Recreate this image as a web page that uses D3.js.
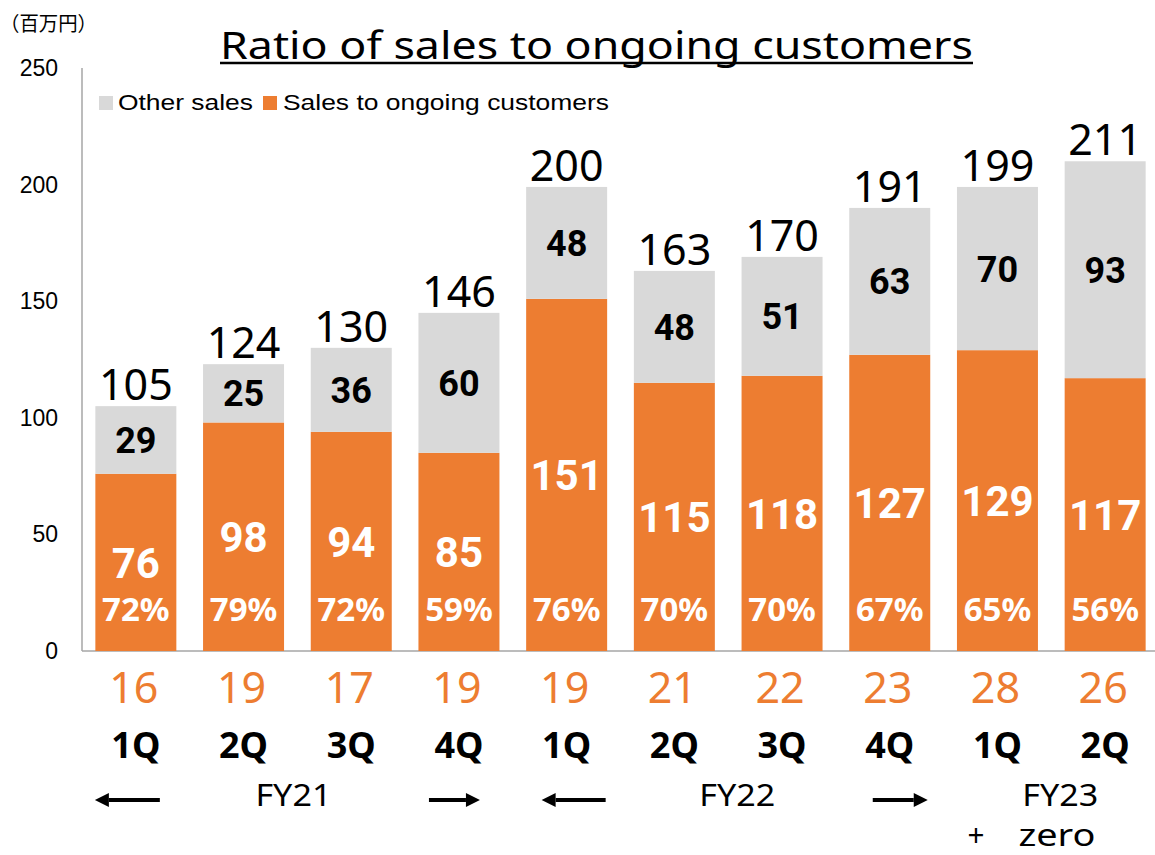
<!DOCTYPE html>
<html>
<head>
<meta charset="utf-8">
<script src="https://cdn.jsdelivr.net/npm/d3@7"></script>
<style>
  html, body { margin: 0; padding: 0; background: #fff; }
  svg { display: block; }
</style>
</head>
<body>
<svg id="chart" width="1155" height="855"></svg>
<script>
const quarters = ["1Q", "2Q", "3Q", "4Q", "1Q", "2Q", "3Q", "4Q", "1Q", "2Q"];
const ongoingSales = [76, 98, 94, 85, 151, 115, 118, 127, 129, 117];
const otherSales = [29, 25, 36, 60, 48, 48, 51, 63, 70, 93];
const totalLabels = [105, 124, 130, 146, 200, 163, 170, 191, 199, 211];
const ratioLabels = ["72%", "79%", "72%", "59%", "76%", "70%", "70%", "67%", "65%", "56%"];
const customerCounts = [16, 19, 17, 19, 19, 21, 22, 23, 28, 26];
const yTickValues = [0, 50, 100, 150, 200, 250];
const seriesNames = ["Other sales", "Sales to ongoing customers"];
const fiscalYears = ["FY21", "FY22", "FY23"];
const titleText = "Ratio of sales to ongoing customers";
const unitText = "（百万円）";
const notePlus = "+";
const noteWord = "zero";

const ORANGE = "#ED7D31", GRAY = "#D9D9D9", AXIS = "#A6A6A6";
const svg = d3.select("#chart");
const ids = quarters.map((q, i) => i);

const x = d3.scaleBand().domain(ids).range([82, 1159]).paddingInner(0.248).paddingOuter(0.124);
const y = d3.scaleLinear().domain([0, 250]).range([651, 68]);
const cx = i => x(i) + x.bandwidth() / 2;

// axes lines
svg.append("line").attr("x1", 82).attr("x2", 82).attr("y1", y(250)).attr("y2", y(0))
  .attr("stroke", AXIS).attr("stroke-width", 1.5);
svg.append("line").attr("x1", 82).attr("x2", 1155).attr("y1", y(0)).attr("y2", y(0))
  .attr("stroke", AXIS).attr("stroke-width", 1.5);

// y tick labels
svg.append("g").selectAll("text").data(yTickValues).join("text")
  .attr("x", 58).attr("y", d => y(d)).attr("dy", "0.35em")
  .attr("text-anchor", "end")
  .attr("font-family", "Liberation Sans, Arial, sans-serif").attr("font-size", 23)
  .attr("fill", "#000").text(d => d);

// unit label
svg.append("text").attr("x", 0).attr("y", 31)
  .attr("font-family", "Noto Sans CJK JP, sans-serif").attr("font-size", 20)
  .attr("textLength", 97).attr("lengthAdjust", "spacingAndGlyphs")
  .text(unitText);

// title
svg.append("text").attr("x", 220).attr("y", 59)
  .attr("font-family", "Noto Sans, sans-serif").attr("font-size", 39).attr("fill", "#000")
  .attr("textLength", 753).attr("lengthAdjust", "spacingAndGlyphs")
  .text(titleText);
svg.append("line").attr("x1", 220).attr("x2", 973).attr("y1", 63).attr("y2", 63)
  .attr("stroke", "#000").attr("stroke-width", 2.5);

// bars
const g = svg.append("g");
g.selectAll("rect.ong").data(ongoingSales).join("rect").attr("class", "ong")
  .attr("x", (d, i) => x(i)).attr("width", x.bandwidth())
  .attr("y", d => y(d)).attr("height", d => y(0) - y(d)).attr("fill", ORANGE);
g.selectAll("rect.oth").data(otherSales).join("rect").attr("class", "oth")
  .attr("x", (d, i) => x(i)).attr("width", x.bandwidth())
  .attr("y", (d, i) => y(ongoingSales[i] + d)).attr("height", (d, i) => y(ongoingSales[i]) - y(ongoingSales[i] + d))
  .attr("fill", GRAY);

// segment labels
g.selectAll("text.ongv").data(ongoingSales).join("text")
  .attr("x", (d, i) => cx(i)).attr("y", d => (y(d) + y(0)) / 2).attr("dy", "0.36em")
  .attr("text-anchor", "middle").attr("font-family", "Roboto, sans-serif").attr("font-weight", 700)
  .attr("font-size", 42).attr("fill", "#fff").text(d => d);
g.selectAll("text.othv").data(otherSales).join("text")
  .attr("x", (d, i) => cx(i)).attr("y", (d, i) => (y(ongoingSales[i]) + y(ongoingSales[i] + d)) / 2).attr("dy", "0.36em")
  .attr("text-anchor", "middle").attr("font-family", "Roboto, sans-serif").attr("font-weight", 700)
  .attr("font-size", 36).attr("fill", "#000").text(d => d);
g.selectAll("text.ratio").data(ratioLabels).join("text")
  .attr("x", (d, i) => cx(i)).attr("y", 621)
  .attr("text-anchor", "middle").attr("font-family", "Noto Sans, sans-serif").attr("font-weight", 700)
  .attr("font-size", 33).attr("fill", "#fff").text(d => d);
g.selectAll("text.total").data(totalLabels).join("text")
  .attr("x", (d, i) => cx(i)).attr("y", (d, i) => y(ongoingSales[i] + otherSales[i]) - 6)
  .attr("text-anchor", "middle").attr("font-family", "Noto Sans, sans-serif")
  .attr("font-size", 43).attr("fill", "#000").text(d => d);

// below axis
g.selectAll("text.cust").data(customerCounts).join("text")
  .attr("x", (d, i) => cx(i) - 2).attr("y", 703)
  .attr("text-anchor", "middle").attr("font-family", "Noto Sans, sans-serif")
  .attr("font-size", 43).attr("fill", ORANGE).text(d => d);
g.selectAll("text.q").data(quarters).join("text")
  .attr("x", (d, i) => cx(i)).attr("y", 758)
  .attr("text-anchor", "middle").attr("font-family", "Noto Sans, sans-serif").attr("font-weight", 700)
  .attr("font-size", 36).attr("fill", "#000").text(d => d);

// fiscal year labels
const fyPos = [(cx(1) + cx(2)) / 2 - 4, (cx(5) + cx(6)) / 2 + 9, (cx(8) + cx(9)) / 2 + 9];
svg.append("g").selectAll("text").data(fiscalYears).join("text")
  .attr("x", (d, i) => fyPos[i]).attr("y", 806)
  .attr("text-anchor", "middle").attr("font-family", "Noto Sans, sans-serif")
  .attr("font-size", 31).attr("fill", "#000")
  .attr("textLength", 76).attr("lengthAdjust", "spacingAndGlyphs").text(d => d);
svg.append("text").attr("x", cx(8) - 30).attr("y", 846)
  .attr("font-family", "Noto Sans, sans-serif").attr("font-size", 30).attr("fill", "#000")
  .attr("textLength", 17).attr("lengthAdjust", "spacingAndGlyphs")
  .text(notePlus);
svg.append("text").attr("x", cx(8) + 21).attr("y", 846)
  .attr("font-family", "Noto Sans, sans-serif").attr("font-size", 30).attr("fill", "#000")
  .attr("textLength", 77).attr("lengthAdjust", "spacingAndGlyphs")
  .text(noteWord);

// arrows
function arrow(x1, x2, yy) {
  const dir = Math.sign(x2 - x1);
  const head = 14;
  svg.append("line").attr("x1", x1).attr("x2", x2 - dir * head).attr("y1", yy).attr("y2", yy)
    .attr("stroke", "#000").attr("stroke-width", 4);
  svg.append("path").attr("d", `M${x2},${yy} L${x2 - dir * head},${yy - 7} L${x2 - dir * head},${yy + 7} Z`)
    .attr("fill", "#000");
}
arrow(cx(0) + 24, cx(0) - 41, 800);
arrow(cx(3) - 30, cx(3) + 21, 800);
arrow(cx(4) + 39, cx(4) - 25, 800);
arrow(cx(7) - 17, cx(7) + 38, 800);

// legend
const lg = svg.append("g");
lg.append("rect").attr("x", 99).attr("y", 96).attr("width", 14).attr("height", 14).attr("fill", GRAY);
lg.append("text").attr("x", 118).attr("y", 110).attr("font-family", "Liberation Sans, Arial, sans-serif")
  .attr("font-size", 22).attr("textLength", 135).attr("lengthAdjust", "spacingAndGlyphs").text(seriesNames[0]);
lg.append("rect").attr("x", 263).attr("y", 96).attr("width", 14).attr("height", 14).attr("fill", ORANGE);
lg.append("text").attr("x", 283).attr("y", 110).attr("font-family", "Liberation Sans, Arial, sans-serif")
  .attr("font-size", 22).attr("textLength", 326).attr("lengthAdjust", "spacingAndGlyphs").text(seriesNames[1]);
</script>
</body>
</html>
